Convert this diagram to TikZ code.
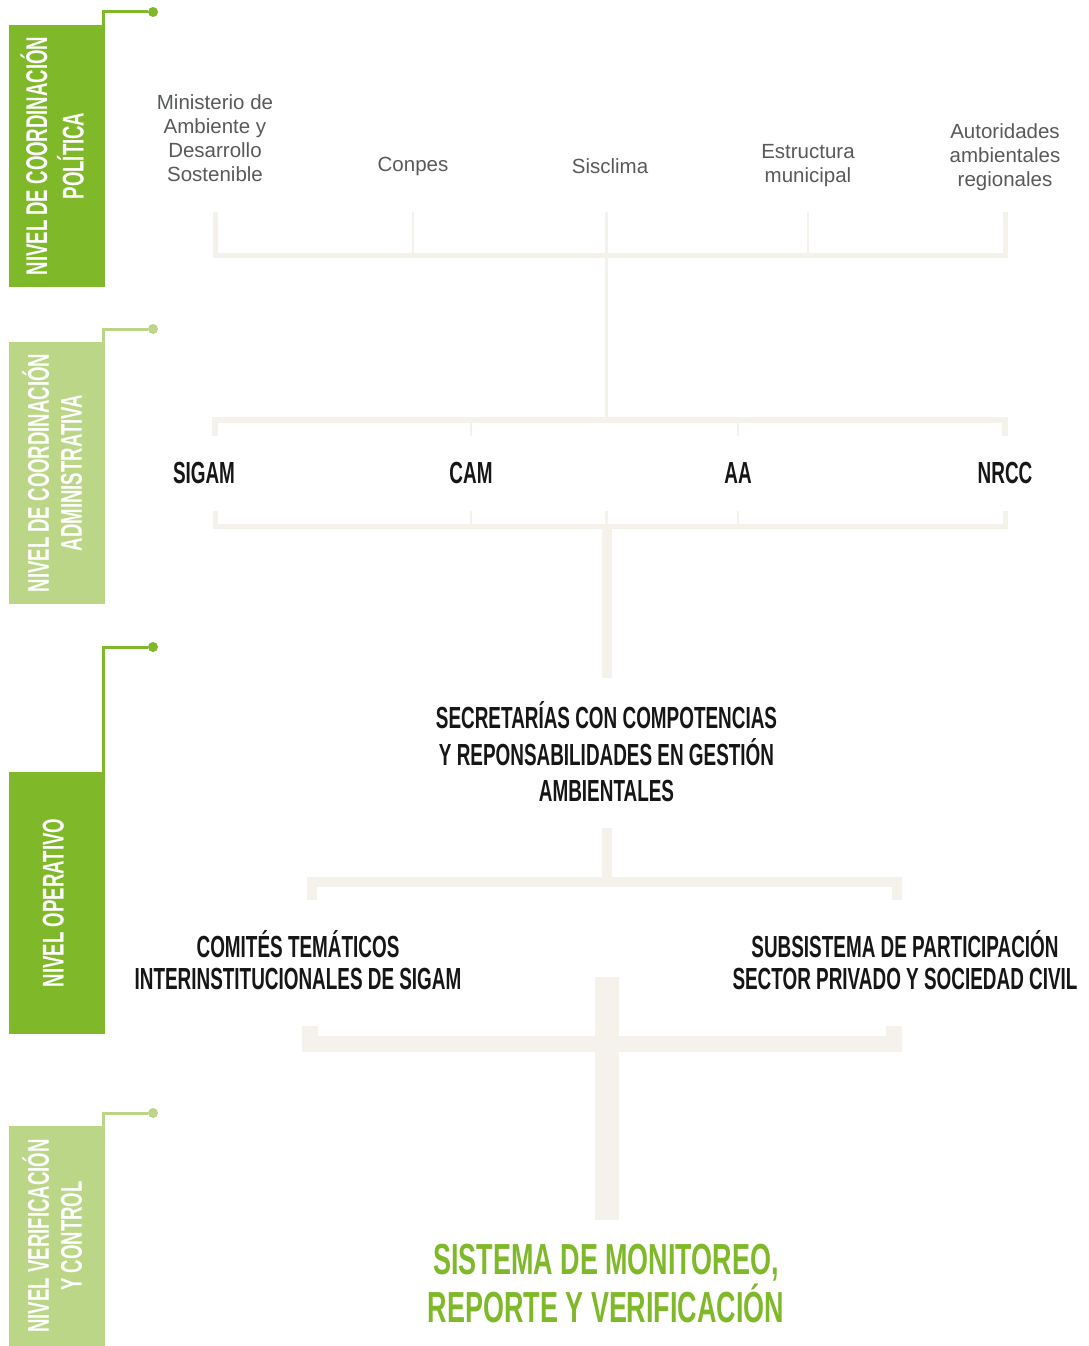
\documentclass[tikz,border=0pt]{standalone}
\usepackage{graphicx}
\usepackage{fontspec}
\setmainfont{Liberation Sans}
\newfontfamily\poster[FakeStretch=0.62]{Liberation Sans}
\usetikzlibrary{positioning, calc}

\definecolor{leafgreen}{RGB}{127,185,42}
\definecolor{palegreen}{RGB}{187,214,134}
\definecolor{linebeige}{RGB}{245,242,236}
\definecolor{labelgray}{RGB}{88,89,91}
\definecolor{inkblack}{RGB}{22,22,22}

\newcommand{\sidelabel}[1]{\rotatebox{90}{\begin{tabular}{@{}c@{}}#1\end{tabular}}}

\begin{document}
\begin{tikzpicture}[
	x=1pt, y=-1pt,
	% Style for the side bands
	band/.style={
		rectangle,
		fill=#1,
		minimum width=96pt,
		inner sep=0pt,
		text=white,
		font=\poster\bfseries\fontsize{30}{33}\selectfont
	},
	knob/.style={circle, fill=#1, minimum size=10pt, inner sep=0pt},
	leader/.style={draw=#1, line width=3pt},
	% Text styles
	entity/.style={align=center, inner sep=0pt, text=labelgray, font=\fontsize{20.5}{24}\selectfont},
	agency/.style={align=center, inner sep=0pt, text=inkblack, font=\poster\bfseries\fontsize{30.5}{36.5}\selectfont},
	forum/.style={agency, font=\poster\bfseries\fontsize{30.5}{32}\selectfont},
	outcome/.style={align=center, inner sep=0pt, text=leafgreen, font=\poster\bfseries\fontsize{43.5}{48}\selectfont},
	% Bracket styles
	rail/.style={draw=linebeige, line width=#1, line join=miter},
	rail/.default=5pt,
	twig/.style={draw=linebeige, line width=2.5pt}
	]
	\useasboundingbox (0,0) rectangle (1088,1346);
	
	% --- SIDE BANDS ---
	\node[band=leafgreen, minimum height=262pt] (lvPol) at (57,156) {\sidelabel{NIVEL DE COORDINACIÓN\\POLÍTICA}};
	\node[band=palegreen, minimum height=262pt] (lvAdm) at (57,473) {\sidelabel{NIVEL DE COORDINACIÓN\\ADMINISTRATIVA}};
	\node[band=leafgreen, minimum height=262pt] (lvOpe) at (57,903) {\sidelabel{NIVEL OPERATIVO}};
	\node[band=palegreen, minimum height=220pt] (lvVer) at (57,1236) {\sidelabel{NIVEL VERIFICACIÓN\\Y CONTROL}};
	
	\node[knob=leafgreen] (kPol) at (153,12) {};
	\node[knob=palegreen] (kAdm) at (153,329) {};
	\node[knob=leafgreen] (kOpe) at (153,647) {};
	\node[knob=palegreen] (kVer) at (153,1113) {};
	
	\draw[leader=leafgreen] ([xshift=-2pt]lvPol.north east) |- (kPol);
	\draw[leader=palegreen] ([xshift=-2pt]lvAdm.north east) |- (kAdm);
	\draw[leader=leafgreen] ([xshift=-2pt]lvOpe.north east) |- (kOpe);
	\draw[leader=palegreen] ([xshift=-2pt]lvVer.north east) |- (kVer);
	
	% --- POLITICAL LEVEL ---
	\node[entity] (mads) at (215,138) {Ministerio de\\Ambiente y\\Desarrollo\\Sostenible};
	\node[entity] (conpes) at (413,166) {Conpes};
	\node[entity] (sisclima) at (610,166) {Sisclima};
	\node[entity] (estruct) at (808,166) {Estructura\\municipal};
	\node[entity] (autor) at (1005,157) {Autoridades\\ambientales\\regionales};
	
	% --- ADMINISTRATIVE LEVEL ---
	\node[agency] (sigam) at (204,473) {SIGAM};
	\node[agency] (cam) at (471,473) {CAM};
	\node[agency] (aa) at (738,473) {AA};
	\node[agency] (nrcc) at (1005,473) {NRCC};
	
	% --- OPERATIVE LEVEL ---
	\node[agency] (secre) at (606.5,752) {SECRETARÍAS CON COMPOTENCIAS\\Y REPONSABILIDADES EN GESTIÓN\\AMBIENTALES};
	\node[forum] (comites) at (298,960) {COMITÉS TEMÁTICOS\\INTERINSTITUCIONALES DE SIGAM};
	\node[forum] (subsis) at (905,960) {SUBSISTEMA DE PARTICIPACIÓN\\SECTOR PRIVADO Y SOCIEDAD CIVIL};
	
	% --- VERIFICATION LEVEL ---
	\node[outcome] (smrv) at (606,1284) {SISTEMA DE MONITOREO,\\REPORTE Y VERIFICACIÓN};
	
	% --- BRACKETS ---
	\coordinate (topT) at (0,212);
	\coordinate (topB) at (0,255.5);
	\coordinate (midT) at (0,420);
	\coordinate (midB) at (0,436);
	\coordinate (lowT) at (0,511);
	\coordinate (lowB) at (0,526.5);
	\coordinate (secTop) at (0,678);
	\coordinate (secBot) at (0,828);
	
	% Political bracket and spine
	\draw[rail] (mads |- topT) -- (mads |- topB) -- (autor |- topB) -- (autor |- topT);
	\foreach \n in {conpes, estruct} {
		\draw[twig] (\n |- topT) -- (\n |- topB);
	}
	\draw[twig] (secre |- topT) -- (secre |- midT);
	
	% Administrative brackets
	\draw[rail=6pt] (mads |- midB) -- (mads |- midT) -- (autor |- midT) -- (autor |- midB);
	\draw[rail] (mads |- lowT) -- (mads |- lowB) -- (autor |- lowB) -- (autor |- lowT);
	\foreach \n in {cam, aa} {
		\draw[twig] (\n |- midT) -- (\n |- midB);
		\draw[twig] (\n |- lowT) -- (\n |- lowB);
	}
	\draw[twig] (secre |- lowT) -- (secre |- lowB);
	\draw[rail=10pt] (secre |- lowB) -- (secre |- secTop);
	
	% Operative bracket
	\coordinate (opL) at (312,900);
	\coordinate (opR) at (897,900);
	\draw[rail=10pt] (secre |- secBot) -- (secre |- 0,882);
	\draw[rail=10pt] (opL) -- (312,882) -- (897,882) -- (opR);
	
	% Verification bracket
	\coordinate (veL) at (310,1026);
	\coordinate (veR) at (894,1026);
	\draw[rail=16pt] (veL) -- (310,1044) -- (894,1044) -- (veR);
	\draw[rail=24pt] (607,977) -- (607,1220);
	
\end{tikzpicture}
\end{document}
